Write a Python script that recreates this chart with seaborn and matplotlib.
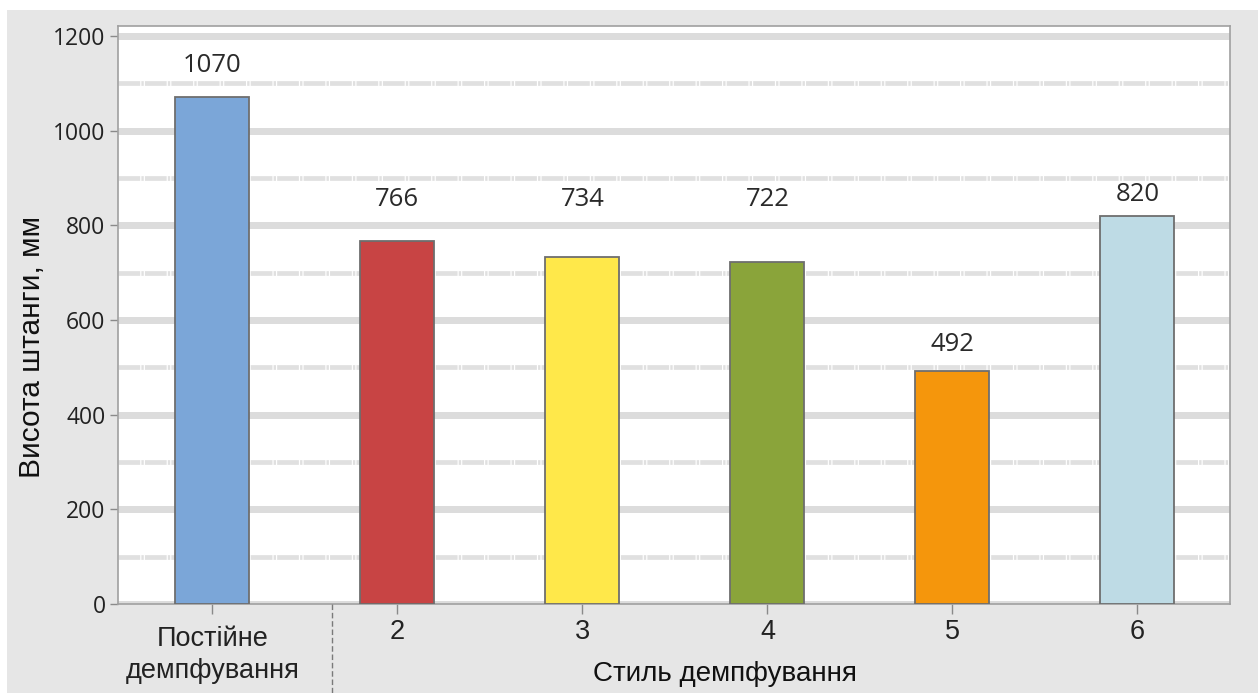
import matplotlib
matplotlib.use("Agg")
import matplotlib.pyplot as plt
import matplotlib.transforms as mtransforms
import seaborn as sns
import pandas as pd
from matplotlib.patches import Rectangle

categories = ["Постійне\nдемпфування", "2", "3", "4", "5", "6"]
values = [1070, 766, 734, 722, 492, 820]
label_y = [1137, 854, 854, 854, 549, 864]   # heights of the value labels (data units)
colors = ["#7BA6D8", "#C84444", "#FFE84A", "#8AA43A", "#F5960C", "#BEDBE5"]
y_ticks = [0, 200, 400, 600, 800, 1000, 1200]
y_minor = [100, 300, 500, 700, 900, 1100]

sns.set_theme(style="white")
plt.rcParams["font.family"] = ["Open Sans", "DejaVu Sans"]
LAB_FONT = ["Liberation Sans", "DejaVu Sans"]

df = pd.DataFrame({"cat": categories, "val": values})

fig = plt.figure(figsize=(12.58, 6.93), dpi=100)
fig.patch.set_facecolor("white")
fig.patches.append(Rectangle((7 / 1258, 0), 1 - 7 / 1258, 1 - 10 / 693,
                             transform=fig.transFigure, facecolor="#E6E6E6",
                             edgecolor="none", zorder=-10))
ax = fig.add_axes([118 / 1258, 1 - 604 / 693, (1230 - 118) / 1258, (604 - 26) / 693])
ax.set_facecolor("white")

sns.barplot(data=df, x="cat", y="val", hue="cat", palette=colors, order=categories,
            hue_order=categories, width=0.4, edgecolor="#6E6E6E", linewidth=1.3,
            saturation=1, legend=False, ax=ax, zorder=3)

ax.set_ylim(0, 1221)
ax.set_xlim(-0.51, 5.5)
ax.set_yticks(y_ticks)
ax.set_yticks(y_minor, minor=True)
for y in y_ticks:
    ax.axhline(y, color="#DCDCDC", lw=5, zorder=1)
for y in y_minor:
    ax.axhline(y, color="#E0E0E0", lw=3.4, ls=(0, (4.6, 0.25, 0.5, 0.25)), zorder=1)

for i, (v, ly) in enumerate(zip(values, label_y)):
    ax.text(i, ly, str(v), ha="center", va="center", fontsize=18.5, color="#2A2A2A")

for s in ax.spines.values():
    s.set_color("#A0A0A0")
    s.set_linewidth(1.2)
ax.tick_params(axis="y", which="major", left=True, length=6, width=1, color="#8A8A8A",
               labelsize=16.5, labelcolor="#222222", pad=3)
ax.tick_params(axis="y", which="minor", left=False)
ax.tick_params(axis="x", bottom=True, length=7, width=1, color="#8A8A8A",
               labelsize=19.5, labelcolor="#222222", pad=4)
ax.set_xticks(range(len(categories)))
ax.set_xticklabels(categories, linespacing=1.3, family=LAB_FONT)
first = ax.get_xticklabels()[0]
first.set_transform(first.get_transform() +
                    mtransforms.ScaledTranslation(0, -7 / 100, fig.dpi_scale_trans))

ax.set_ylabel("Висота штанги, мм", fontsize=21.5, color="#111111", family=LAB_FONT)
ax.yaxis.set_label_coords(-0.0646, 0.445)
ax.set_xlabel("Стиль демпфування", fontsize=20, color="#111111", family=LAB_FONT)
ax.xaxis.set_label_coords(0.546, -0.098)

# dashed separator between category 0 and the rest
ax.plot([0.645, 0.645], [0, -0.16], transform=ax.get_xaxis_transform(), color="#7A7A7A",
        lw=1, ls=(0, (4, 2)), clip_on=False, zorder=5)

fig.savefig("out.png", dpi=100, facecolor=fig.get_facecolor())
